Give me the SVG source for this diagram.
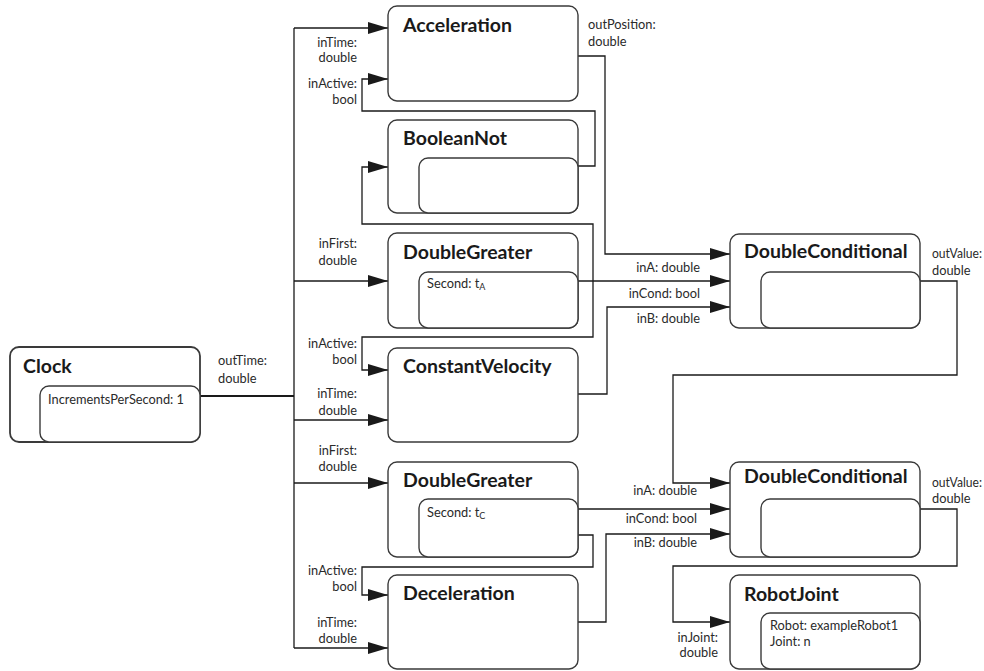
<svg xmlns="http://www.w3.org/2000/svg" width="984" height="671" viewBox="0 0 984 671">
  <style>
    .box { fill: #ffffff; stroke: #3a3a3a; stroke-width: 1.4; }
    .inner { fill: #ffffff; stroke: #3a3a3a; stroke-width: 1.4; }
    .title { font-family: Lato, "Liberation Sans", sans-serif; font-weight: bold; font-size: 19.5px; fill: #1a1a1a; }
    .lbl { font-family: Lato, "Liberation Sans", sans-serif; font-size: 12.8px; fill: #2a2a2a; }
    .end { text-anchor: end; }
    .wire { fill: none; stroke: #1a1a1a; stroke-width: 1.3; }
    .arrow { marker-end: url(#head); }
  </style>
  <defs>
    <marker id="head" markerUnits="userSpaceOnUse" markerWidth="20" markerHeight="12" refX="20" refY="6" orient="auto">
      <path d="M0,0 L20,6 L0,12 Z" fill="#1a1a1a"/>
    </marker>
  </defs>

  <rect width="984" height="671" fill="#ffffff"/>

  <!-- wiring between blocks -->
  <g id="connectors">
    <path class="wire" d="M200,396 H294" style="stroke-width:2"/>
    <path class="wire" d="M294,28 V648"/>
    <path class="wire arrow" d="M294,28 H388"/>
    <path class="wire arrow" d="M294,281 H388"/>
    <path class="wire arrow" d="M294,420 H388"/>
    <path class="wire arrow" d="M294,483 H388"/>
    <path class="wire arrow" d="M294,648 H388"/>
    <path class="wire arrow" d="M578,166 H595 V111 H362 V79 H388"/>
    <path class="wire arrow" d="M593,281 V224 H362 V167 H388"/>
    <path class="wire arrow" d="M593,281 V337 H362 V370 H388"/>
    <path class="wire arrow" d="M578,281 H730"/>
    <path class="wire arrow" d="M578,56 H605 V254 H730"/>
    <path class="wire arrow" d="M578,394 H607 V307 H730"/>
    <path class="wire arrow" d="M920,281 H957 V375 H673 V483 H730"/>
    <path class="wire arrow" d="M578,509 H730"/>
    <path class="wire arrow" d="M578,535 H593 V567 H362 V595 H388"/>
    <path class="wire arrow" d="M578,622 H606 V534 H730"/>
    <path class="wire arrow" d="M920,509 H957 V566 H673 V622 H730"/>
  </g>

  <!-- port labels -->
  <g id="labels">
    <text class="lbl" x="218" y="365">outTime:</text>
    <text class="lbl" x="218" y="383">double</text>
    <text class="lbl end" x="357" y="47">inTime:</text>
    <text class="lbl end" x="357" y="62">double</text>
    <text class="lbl end" x="357" y="88">inActive:</text>
    <text class="lbl end" x="357" y="104">bool</text>
    <text class="lbl" x="588" y="29">outPosition:</text>
    <text class="lbl" x="588" y="46">double</text>
    <text class="lbl end" x="357" y="248">inFirst:</text>
    <text class="lbl end" x="357" y="265">double</text>
    <text class="lbl end" x="357" y="348">inActive:</text>
    <text class="lbl end" x="357" y="364">bool</text>
    <text class="lbl end" x="357" y="398">inTime:</text>
    <text class="lbl end" x="357" y="415">double</text>
    <text class="lbl end" x="357" y="455">inFirst:</text>
    <text class="lbl end" x="357" y="471">double</text>
    <text class="lbl end" x="357" y="575">inActive:</text>
    <text class="lbl end" x="357" y="591">bool</text>
    <text class="lbl end" x="357" y="627">inTime:</text>
    <text class="lbl end" x="357" y="643">double</text>
    <text class="lbl end" x="700" y="272">inA: double</text>
    <text class="lbl end" x="700" y="298">inCond: bool</text>
    <text class="lbl end" x="700" y="323">inB: double</text>
    <text class="lbl" x="932" y="258" textLength="50" lengthAdjust="spacingAndGlyphs">outValue:</text>
    <text class="lbl" x="932" y="275">double</text>
    <text class="lbl end" x="697" y="495">inA: double</text>
    <text class="lbl end" x="697" y="523">inCond: bool</text>
    <text class="lbl end" x="697" y="547">inB: double</text>
    <text class="lbl" x="932" y="487" textLength="50" lengthAdjust="spacingAndGlyphs">outValue:</text>
    <text class="lbl" x="932" y="503">double</text>
    <text class="lbl end" x="718" y="642">inJoint:</text>
    <text class="lbl end" x="718" y="657">double</text>
  </g>

  <g id="clock">
    <rect class="box" x="10" y="347" width="190" height="95" rx="9" style="stroke-width:1.8"/>
    <rect class="inner" x="40" y="386" width="160" height="56" rx="9"/>
    <text class="title" x="23" y="373">Clock</text>
    <text class="lbl" x="48" y="404">IncrementsPerSecond: 1</text>
  </g>

  <g id="acceleration">
    <rect class="box" x="388" y="6" width="190" height="95" rx="9"/>
    <text class="title" x="403" y="32">Acceleration</text>
  </g>

  <g id="boolean-not">
    <rect class="box" x="388" y="120" width="190" height="93" rx="9"/>
    <rect class="inner" x="419" y="158" width="159" height="55" rx="9"/>
    <text class="title" x="403" y="145">BooleanNot</text>
  </g>

  <g id="double-greater-a">
    <rect class="box" x="388" y="233" width="190" height="95" rx="9"/>
    <rect class="inner" x="419" y="272" width="159" height="56" rx="9"/>
    <text class="title" x="403" y="259">DoubleGreater</text>
    <text class="lbl" x="427" y="288">Second: t<tspan font-size="9" dy="2">A</tspan></text>
  </g>

  <g id="constant-velocity">
    <rect class="box" x="388" y="348" width="190" height="94" rx="9"/>
    <text class="title" x="403" y="373">ConstantVelocity</text>
  </g>

  <g id="double-greater-c">
    <rect class="box" x="388" y="462" width="190" height="95" rx="9"/>
    <rect class="inner" x="419" y="499" width="159" height="58" rx="9"/>
    <text class="title" x="403" y="487">DoubleGreater</text>
    <text class="lbl" x="427" y="517">Second: t<tspan font-size="9" dy="2">C</tspan></text>
  </g>

  <g id="deceleration">
    <rect class="box" x="388" y="575" width="190" height="94" rx="9"/>
    <text class="title" x="403" y="600">Deceleration</text>
  </g>

  <g id="double-conditional-1">
    <rect class="box" x="730" y="234" width="190" height="94" rx="9"/>
    <rect class="inner" x="761" y="272" width="159" height="56" rx="9"/>
    <text class="title" x="744" y="258">DoubleConditional</text>
  </g>

  <g id="double-conditional-2">
    <rect class="box" x="730" y="462" width="190" height="95" rx="9"/>
    <rect class="inner" x="761" y="499" width="159" height="58" rx="9"/>
    <text class="title" x="744" y="483">DoubleConditional</text>
  </g>

  <g id="robot-joint">
    <rect class="box" x="730" y="575" width="190" height="94" rx="9"/>
    <rect class="inner" x="761" y="613" width="159" height="56" rx="9"/>
    <text class="title" x="744" y="601">RobotJoint</text>
    <text class="lbl" x="770" y="630">Robot: exampleRobot1</text>
    <text class="lbl" x="770" y="646">Joint: n</text>
  </g>
</svg>
